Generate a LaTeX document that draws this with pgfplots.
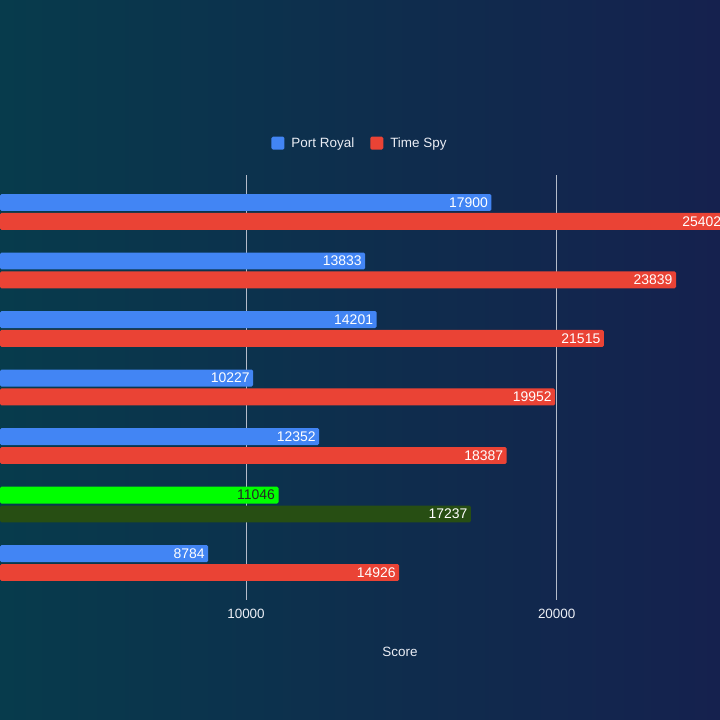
\documentclass[border=0pt]{standalone}
\usepackage{pgfplots}
\pgfplotsset{compat=1.18}
\usepackage{fontspec}
\setmainfont{Liberation Sans}
\definecolor{bgL}{RGB}{7,59,76}
\definecolor{bgR}{RGB}{21,33,78}
\definecolor{pr}{RGB}{66,133,244}
\definecolor{ts}{RGB}{234,67,53}
\definecolor{gr}{RGB}{0,255,0}
\definecolor{dg}{RGB}{39,78,19}
\definecolor{gridc}{RGB}{180,188,202}
\definecolor{txt}{RGB}{235,238,245}
\begin{document}
\begin{tikzpicture}
\path[use as bounding box, left color=bgL, right color=bgR] (0bp,0bp) rectangle (720bp,720bp);
\begin{axis}[
  at={(0bp,120bp)}, anchor=south west,
  scale only axis, width=727.6bp, height=425bp,
  xmin=2082, xmax=25500, ymin=-0.632, ymax=6.632, y dir=reverse,
  axis line style={draw=none},
  scaled ticks=false,
  xtick={10000,20000}, ytick=\empty, major tick length=0pt,
  xmajorgrids, major grid style={gridc, line width=0.75bp},
  xticklabel style={font=\fontsize{13.5}{16}\selectfont, text=txt, yshift=-6bp},
  xlabel={Score},
  xlabel style={at={(rel axis cs:0.5497,-0.122)}, anchor=center, text=txt, font=\fontsize{13.5}{16}\selectfont},
  /pgf/number format/.cd, 1000 sep={}, assume math mode=true, /pgfplots/.cd,
  xbar, bar width=0.29,
  point meta=x,
  nodes near coords,
  every node near coord/.append style={anchor=east, font=\fontsize{14}{16}\selectfont, text=white},
  legend image code/.code={\fill[#1] (0bp,-6.5bp) rectangle (13bp,6.5bp);},
  legend columns=2,
  legend style={at={(rel axis cs:0.4948,1.075)}, anchor=center, draw=none, fill=none,
    text=txt, font=\fontsize{13.5}{16}\selectfont,
    /tikz/every odd column/.append style={column sep=5bp},
    /tikz/every even column/.append style={column sep=14bp}},
]
\addplot[fill=pr, draw=none, rounded corners=1.5bp, bar shift=-0.162]
  coordinates {(17900,0) (13833,1) (14201,2) (10227,3) (12352,4) (8784,6)};
\addlegendentry{Port Royal}
\addplot[fill=ts, draw=none, rounded corners=1.5bp, bar shift=0.162]
  coordinates {(25402,0) (23839,1) (21515,2) (19952,3) (18387,4) (14926,6)};
\addlegendentry{Time Spy}
\addplot[fill=gr, draw=none, rounded corners=1.5bp, bar shift=-0.162, forget plot,
  every node near coord/.append style={text=black!85}]
  coordinates {(11046,5)};
\addplot[fill=dg, draw=none, rounded corners=1.5bp, bar shift=0.162, forget plot]
  coordinates {(17237,5)};
\end{axis}
\end{tikzpicture}
\end{document}
